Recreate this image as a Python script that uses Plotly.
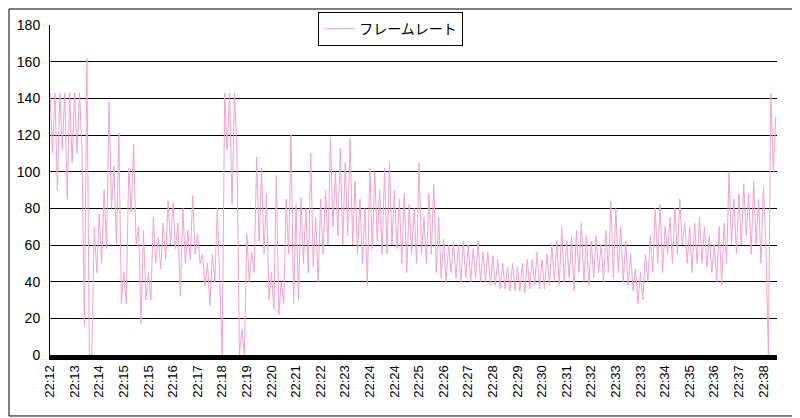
import plotly.graph_objects as go

# tick labels on the category axis (one every 10 samples)
tick_labels = ["22:12", "22:13", "22:14", "22:15", "22:15", "22:16", "22:17", "22:18",
               "22:19", "22:20", "22:21", "22:22", "22:23", "22:24", "22:24", "22:25",
               "22:26", "22:27", "22:28", "22:29", "22:30", "22:31", "22:32", "22:33",
               "22:33", "22:34", "22:35", "22:36", "22:37", "22:38"]

# frame rate samples (alternating peaks / troughs)
frame_rate = [
    143, 110, 143, 90, 143, 112, 143, 85, 143, 105,
    143, 110, 143, 112, 16, 162, 0, 0, 70, 45,
    77, 50, 90, 58, 138, 80, 103, 60, 121, 28,
    45, 28, 102, 78, 115, 60, 70, 17, 68, 30,
    45, 30, 75, 50, 64, 47, 72, 52, 84, 60,
    83, 58, 72, 32, 80, 50, 68, 52, 87, 55,
    66, 50, 55, 38, 50, 27, 55, 40, 80, 42,
    0, 143, 112, 143, 82, 143, 110, 0, 14, 0,
    66, 40, 56, 45, 108, 62, 102, 55, 88, 30,
    45, 25, 98, 22, 40, 28, 85, 55, 120, 28,
    82, 30, 86, 50, 80, 45, 110, 48, 75, 40,
    85, 55, 90, 60, 118, 70, 100, 65, 113, 60,
    105, 65, 118, 60, 95, 55, 85, 50, 80, 38,
    102, 58, 100, 62, 90, 55, 102, 55, 105, 60,
    90, 58, 85, 50, 88, 45, 82, 55, 80, 50,
    105, 55, 75, 50, 88, 55, 93, 45, 75, 42,
    63, 40, 60, 45, 62, 42, 60, 40, 62, 42,
    60, 40, 58, 42, 62, 40, 56, 40, 56, 38,
    54, 38, 52, 36, 50, 36, 48, 35, 50, 35,
    48, 35, 50, 34, 52, 36, 52, 38, 56, 36,
    52, 36, 55, 38, 60, 40, 62, 38, 70, 40,
    62, 42, 65, 35, 68, 45, 72, 40, 65, 38,
    62, 42, 65, 45, 60, 40, 68, 45, 84, 42,
    80, 45, 70, 40, 62, 38, 55, 35, 47, 28,
    45, 30, 55, 40, 65, 45, 80, 50, 82, 45,
    70, 55, 75, 50, 80, 55, 85, 60, 72, 50,
    70, 45, 72, 50, 75, 50, 70, 48, 65, 45,
    60, 40, 70, 38, 72, 50, 100, 60, 85, 55,
    88, 60, 93, 65, 88, 55, 95, 60, 85, 50,
    92, 60, 0, 143, 100, 130,
]

idx = list(range(len(frame_rate)))

fig = go.Figure()
fig.add_trace(go.Scatter(
    x=idx, y=frame_rate, mode="lines", name="フレームレート",
    line=dict(color="#f7a1cd", width=1),
))

# page body has an 8px margin, so the figure is a bit smaller than the window
fig.update_layout(
    width=792, height=410,
    margin=dict(l=42, r=23, t=17, b=63, autoexpand=False),
    paper_bgcolor="white", plot_bgcolor="white",
    font=dict(family="Liberation Sans, Noto Sans CJK JP", size=14, color="black"),
    showlegend=True,
    legend=dict(x=0.369, y=1.039, xanchor="left", yanchor="top",
                bgcolor="white", bordercolor="black", borderwidth=1,
                font=dict(size=14), itemwidth=30),
    xaxis=dict(range=[0, 295.5], tickmode="array", automargin=False,
               tickvals=[i * 10 for i in range(len(tick_labels))],
               ticktext=tick_labels, tickangle=-90, showgrid=False,
               showline=True, linecolor="black", linewidth=5,
               ticks="", tickfont=dict(size=13), zeroline=False),
    yaxis=dict(range=[0, 180], dtick=20, showgrid=True, gridcolor="black",
               gridwidth=1, showline=True, linecolor="black", linewidth=1,
               automargin=False, ticks="outside", ticklen=6, tickcolor="white",
               zeroline=False, tickfont=dict(size=14)),
    shapes=[dict(type="rect", xref="paper", yref="paper",
                 x0=-0.0564, x1=1.0275, y0=-0.1848, y1=1.0485,
                 line=dict(color="black", width=1))],
)

fig.write_html("out.html")
